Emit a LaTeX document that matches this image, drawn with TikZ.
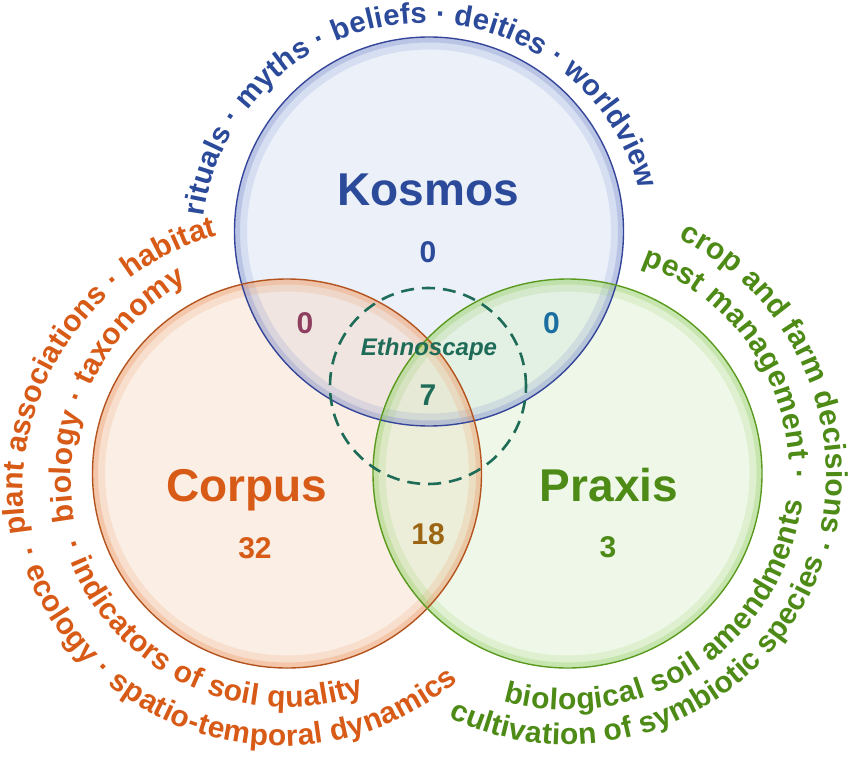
\documentclass[tikz,border=0pt]{standalone}
\usepackage{fontspec}
\setmainfont{Liberation Sans}
\usetikzlibrary{decorations.text}
\definecolor{kosblue}{HTML}{2C4A9A}
\definecolor{kosfill}{HTML}{D2DDF2}
\definecolor{kosrim}{HTML}{7A8CCB}
\definecolor{kosedge}{HTML}{34459A}
\definecolor{corange}{HTML}{D75A16}
\definecolor{corfill}{HTML}{F6D9C3}
\definecolor{corrim}{HTML}{EC9560}
\definecolor{coredge}{HTML}{B4531D}
\definecolor{prgreen}{HTML}{4D8A16}
\definecolor{prafill}{HTML}{DBF0CB}
\definecolor{prarim}{HTML}{93CC62}
\definecolor{praedge}{HTML}{5A9A1E}
\definecolor{ethno}{HTML}{1E6B58}
\definecolor{mauve}{HTML}{8E3E5E}
\definecolor{petrol}{HTML}{1A6FA0}
\definecolor{ochre}{HTML}{9B6513}
\newcommand\ringfont{\fontsize{30}{30}\selectfont\bfseries}
\newcommand\kosringfont{\fontsize{29.3}{30}\selectfont\bfseries}
\begin{document}
\begin{tikzpicture}[x=1pt,y=1pt,
  bubble/.style={fill=#1, fill opacity=.45},
  rim/.style={#1, line width=12pt, opacity=.18},
  innerrim/.style={#1, line width=5pt, opacity=.3},
  big/.style={font=\fontsize{46}{46}\selectfont\bfseries},
  count/.style={font=\fontsize{30}{30}\selectfont\bfseries},
  ring/.style n args={3}{decorate, decoration={text along path, text align=fit to path,
    text color=#1, text={|#2|#3}}}]
\useasboundingbox (0,0) rectangle (850,756);
\coordinate (kos) at (429,524.5);
\coordinate (cor) at (287,282.5);
\coordinate (pra) at (567.5,282.5);
\coordinate (eth) at (428,370);
% centres of the text rings
\coordinate (kosring) at (424,511);
\coordinate (corA) at (288,265);
\coordinate (corB) at (296,277);
\coordinate (corC) at (281,283);
\coordinate (praA) at (560.5,279.3);
% bubbles
\fill[bubble=kosfill] (kos) circle (194.5);
\fill[bubble=corfill] (cor) circle (194.5);
\fill[bubble=prafill] (pra) circle (194.5);
\draw[rim=kosrim] (kos) circle (188);
\draw[rim=corrim] (cor) circle (188);
\draw[rim=prarim] (pra) circle (188);
\draw[innerrim=kosrim] (kos) circle (191.5);
\draw[innerrim=corrim] (cor) circle (191.5);
\draw[innerrim=prarim] (pra) circle (191.5);
\draw[kosedge, line width=1.4pt] (kos) circle (194.5);
\draw[coredge, line width=1.4pt] (cor) circle (194.5);
\draw[praedge, line width=1.4pt] (pra) circle (194.5);
\draw[ethno, line width=2.6pt, dash pattern=on 13pt off 8pt] (eth) circle (98);
% labels
\node[big, kosblue] (koslabel) at (428,566.5) {Kosmos};
\node[count, kosblue] (kosnum) at (428,504) {0};
\node[big, corange] (corlabel) at (247,266) {Corpus};
\node[count, corange] (cornum) at (255,208) {32};
\node[big, prgreen] (pralabel) at (609,270.5) {Praxis};
\node[count, prgreen] (pranum) at (608,208.5) {3};
\node[count, mauve] (kcnum) at (305,433) {0};
\node[count, petrol] (kpnum) at (551.5,433) {0};
\node[ethno, font=\fontsize{24}{24}\selectfont\bfseries\itshape] (ethlabel) at (429,407) {Ethnoscape};
\node[count, ethno] (allnum) at (428,361) {7};
\node[count, ochre] (cpnum) at (428,222) {18};
% text rings
\path[ring={kosblue}{\kosringfont}{rituals · myths · beliefs · deities · worldview}] (kosring) ++(172.5:222) arc[start angle=172.5, end angle=14.5, radius=222];
\path[ring={corange}{\ringfont}{plant associations · habitat}] (corA) ++(189.3:265) arc[start angle=189.3, end angle=105.5, radius=265];
\path[ring={corange}{\ringfont}{biology · taxonomy}] (corB) ++(190.8:225) arc[start angle=190.8, end angle=119, radius=225];
\path[ring={corange}{\ringfont}{· ecology · spatio-temporal dynamics}] (corC) ++(196.5:273) arc[start angle=196.5, end angle=310.5, radius=273];
\path[ring={corange}{\ringfont}{· indicators of soil quality}] (cor) ++(197.4:234) arc[start angle=197.4, end angle=289.4, radius=234];
\path[ring={prgreen}{\ringfont}{crop and farm decisions ·}] (praA) ++(63.6:266) arc[start angle=63.6, end angle=-16, radius=266];
\path[ring={prgreen}{\ringfont}{pest management ·}] (pra) ++(70.5:222) arc[start angle=70.5, end angle=-1.5, radius=222];
\path[ring={prgreen}{\ringfont}{cultivation of symbiotic species}] (pra) ++(244:271) arc[start angle=244, end angle=341.5, radius=271];
\path[ring={prgreen}{\ringfont}{biological soil amendments}] (pra) ++(254.2:236.5) arc[start angle=254.2, end angle=353.3, radius=236.5];
\end{tikzpicture}
\end{document}
